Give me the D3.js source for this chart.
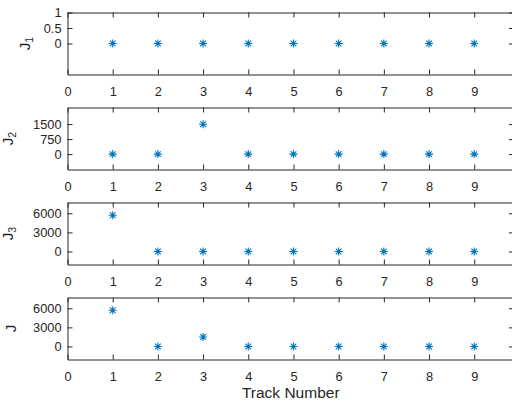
<!DOCTYPE html>
<html><head><meta charset="utf-8">
<script src="https://cdn.jsdelivr.net/npm/d3@7"></script>
<style>
body{margin:0;background:#fff;}
svg{display:block;font-family:"Liberation Sans",Arial,sans-serif;}
</style></head>
<body><svg id="c" width="512" height="403"></svg>
<script>
// ---- data ----
const tracks = [1,2,3,4,5,6,7,8,9];
const xTickValues = [0,1,2,3,4,5,6,7,8,9];
const J1 = [0,0,0,0,0,0,0,0,0];
const J2 = [0,0,1490,0,0,0,0,0,0];
const J3 = [5700,0,0,0,0,0,0,0,0];
const J  = [5700,0,1490,0,0,0,0,0,0];
const yTicks1 = [0,0.5,1];
const yTicks2 = [0,750,1500];
const yTicks3 = [0,3000,6000];
const yTicks4 = [0,3000,6000];
const yLabels = [["J","1"],["J","2"],["J","3"],["J",""]];
const xLabel = "Track Number";

// ---- layout ----
const panels = [
  {vals:J1, ticks:yTicks1, dom:[-1,1],        top:12, lab:yLabels[0], labRight:35},
  {vals:J2, ticks:yTicks2, dom:[-770,2330],   top:107, lab:yLabels[1], labRight:18},
  {vals:J3, ticks:yTicks3, dom:[-2050,7700],  top:202, lab:yLabels[2], labRight:18},
  {vals:J,  ticks:yTicks4, dom:[-2050,7700],  top:297, lab:yLabels[3], labRight:18.5}
];
const H = 62, L = 67.5, R = 514;
const ink = "#262626", blue = "#0072BD";

const svg = d3.select("#c");
const x = d3.scaleLinear().domain([0, 9.88]).range([L, R]);

const asterisk = {
  draw(ctx, size){
    const r = Math.sqrt(size)/2, d = r*Math.SQRT1_2;
    ctx.moveTo(-r,0); ctx.lineTo(r,0);
    ctx.moveTo(0,-r); ctx.lineTo(0,r);
    ctx.moveTo(-d,-d); ctx.lineTo(d,d);
    ctx.moveTo(-d,d); ctx.lineTo(d,-d);
  }
};
const sym = d3.symbol().type(asterisk).size(64);

function style(g){
  g.selectAll("path.domain").attr("stroke", ink).attr("stroke-width",1);
  g.selectAll(".tick line").attr("stroke", ink).attr("stroke-width",1);
  g.selectAll(".tick text").attr("fill", ink).attr("font-size", 12.8)
    .attr("font-family", '"Liberation Sans",Arial,sans-serif');
}

panels.forEach(p => {
  const top = p.top + 0.5, bot = top + H;
  const y = d3.scaleLinear().domain(p.dom).range([bot, top]);
  const g = svg.append("g");

  g.append("g").attr("transform",`translate(0,${bot})`)
    .call(d3.axisBottom(x).tickValues(xTickValues).tickSizeInner(-5).tickSizeOuter(0).tickPadding(12).tickFormat(d3.format("d")))
    .call(style);
  g.append("g").attr("transform",`translate(0,${top})`)
    .call(d3.axisTop(x).tickValues(xTickValues).tickSizeInner(-5).tickSizeOuter(0).tickFormat(""))
    .call(style);
  g.append("g").attr("transform",`translate(${L},0)`)
    .call(d3.axisLeft(y).tickValues(p.ticks).tickSizeInner(-5).tickSizeOuter(0).tickPadding(6).tickFormat(d3.format("")))
    .call(style);
  g.append("g").attr("transform",`translate(${R},0)`)
    .call(d3.axisLeft(y).tickValues(p.ticks).tickSizeInner(5).tickSizeOuter(0).tickFormat(""))
    .call(style);

  g.selectAll("path.mk").data(p.vals).join("path").attr("class","mk")
    .attr("transform",(d,i)=>`translate(${x(tracks[i])},${y(d)})`)
    .attr("d", sym).attr("fill","none").attr("stroke", blue).attr("stroke-width",1.1);

  const t = g.append("text").attr("fill", ink).attr("font-size", 15)
    .attr("text-anchor","middle");
  t.append("tspan").text(p.lab[0]);
  if (p.lab[1]) t.append("tspan").attr("font-size", 10.5).attr("baseline-shift","-25%").text(p.lab[1]);
  const cy = (top + bot)/2;
  t.attr("transform",`translate(0,${cy}) rotate(-90)`);
  const bb = t.node().getBBox();
  const right = bb.y + bb.height;
  t.attr("transform",`translate(${p.labRight - right},${cy}) rotate(-90)`);
});

svg.append("text").attr("x", (L+R)/2).attr("y", 398).attr("text-anchor","middle")
  .attr("fill", ink).attr("font-size", 15.5).text(xLabel);
</script></body></html>
